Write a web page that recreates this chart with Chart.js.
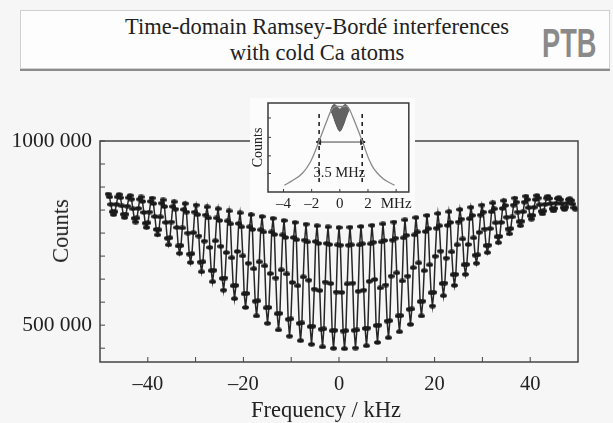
<!DOCTYPE html>
<html>
<head>
<meta charset="utf-8">
<script src="https://cdn.jsdelivr.net/npm/chart.js@4.4.1/dist/chart.umd.min.js"></script>
<style>
  body { margin: 0; width: 613px; height: 423px; overflow: hidden; position: relative; background: #f6f6f6; font-family: "Liberation Serif", "DejaVu Serif", serif; color: #222; }
  #head { position: absolute; left: 20px; top: 10px; width: 588px; height: 57px; background: #fdfdfd; border: 1px solid #d0d0d0; box-shadow: 0 2px 0 #8c8c8c; }
  #head .t { position: absolute; left: 0; width: 592px; text-align: center; font-size: 22.5px; }
  #logo { position: absolute; left: 542px; top: 23px; font: bold 40px/1 "Liberation Sans", sans-serif; color: #8a8a8a; transform: scaleX(0.68); transform-origin: left top; }
  .lbl { position: absolute; white-space: nowrap; transform: translate(-50%, -50%); }
  canvas { position: absolute; }
</style>
</head>
<body>
<div id="head">
  <div class="t" style="top:3px">Time-domain Ramsey-Bordé interferences</div>
  <div class="t" style="top:29px">with cold Ca atoms</div>
</div>
<div id="logo">PTB</div>
<canvas id="main" width="613" height="423" style="left:0;top:0;width:613px;height:423px"></canvas>
<canvas id="inset" width="165" height="114" style="left:250px;top:98px;width:165px;height:114px"></canvas>
<div class="lbl" style="left:61px;top:231px;font-size:22.5px;transform:translate(-50%,-50%) rotate(-90deg)">Counts</div>
<div class="lbl" style="left:326px;top:410px;font-size:22.5px">Frequency / kHz</div>
<script>
// main scan: counts in units of 1000, sampled on a regular frequency grid (one fringe per row)
const freqStartKHz = -48.3;
const freqStepKHz = 0.2875;
const countsK = [
  856, 848, 828, 808, 800, 808, 828, 848,
  855, 846, 824, 801, 792, 801, 823, 846,
  852, 842, 816, 790, 780, 791, 817, 842,
  848, 836, 806, 777, 765, 778, 807, 836,
  845, 830, 795, 760, 745, 759, 794, 831,
  840, 822, 779, 736, 718, 737, 780, 822,
  835, 815, 765, 715, 695, 716, 764, 814,
  830, 807, 750, 693, 670, 694, 751, 807,
  826, 800, 742, 671, 645, 672, 728, 799,
  821, 791, 711, 648, 618, 649, 729, 791,
  816, 784, 714, 627, 595, 628, 697, 783,
  810, 775, 683, 607, 572, 608, 700, 776,
  805, 767, 688, 585, 548, 586, 668, 767,
  800, 760, 653, 565, 525, 566, 672, 759,
  795, 753, 661, 547, 505, 548, 640, 753,
  790, 746, 628, 531, 487, 532, 650, 745,
  784, 738, 639, 516, 470, 517, 616, 738,
  779, 732, 607, 505, 458, 506, 631, 731,
  774, 726, 622, 496, 448, 497, 598, 727,
  770, 722, 594, 489, 441, 490, 617, 722,
  767, 719, 613, 485, 437, 486, 590, 718,
  765, 717, 589, 484, 436, 485, 612, 717,
  766, 718, 614, 486, 438, 487, 592, 718,
  768, 721, 595, 491, 444, 492, 619, 721,
  771, 725, 624, 499, 453, 500, 601, 726,
  775, 730, 609, 511, 466, 512, 633, 731,
  780, 736, 642, 525, 482, 526, 620, 737,
  786, 744, 633, 543, 502, 544, 656, 745,
  792, 753, 669, 564, 525, 565, 648, 754,
  798, 762, 664, 588, 552, 589, 687, 763,
  803, 770, 701, 613, 580, 614, 682, 771,
  808, 779, 699, 637, 608, 638, 718, 780,
  814, 788, 734, 664, 638, 665, 719, 789,
  820, 798, 737, 690, 668, 691, 752, 799,
  826, 807, 761, 716, 697, 717, 762, 808,
  832, 816, 778, 740, 724, 741, 779, 817,
  838, 825, 793, 761, 748, 762, 794, 826,
  845, 834, 807, 781, 770, 782, 808, 834,
  850, 841, 819, 797, 788, 798, 820, 841,
  852, 845, 827, 809, 802, 810, 828, 845,
  850, 844, 830, 816, 810, 817, 831, 844,
  846, 841, 830, 819, 814, 820, 831, 841,
  843, 839, 829, 819, 815
];
const xTickVals = [-40, -30, -20, -10, 0, 10, 20, 30, 40];
const xTickText = ["\u201340", "", "\u201320", "", "0", "", "20", "", "40"];
const yTickVals = [437.5, 500, 562.5, 625, 687.5, 750, 812.5, 875, 937.5, 1000];
const yTickText = ["", "500 000", "", "", "", "", "", "", "", "1000 000"];

// inset: wide scan in MHz, normalised counts
const inCurveX = [-3.93, -3.36, -2.67, -2.09, -1.47, -0.94, -0.6, -0.32, 0, 0.3, 0.55, 0.9, 1.59, 2.28, 3.08, 3.88];
const inCurveY = [0.078, 0.13, 0.21, 0.34, 0.58, 0.80, 0.93, 0.97, 0.97, 0.97, 0.97, 0.86, 0.58, 0.30, 0.15, 0.078];
const blobX = [-0.65, -0.45, -0.25, 0, 0.25, 0.45, 0.65];
const blobTop = [0.93, 0.99, 0.98, 0.94, 0.98, 0.99, 0.93];
const blobBottom = [0.93, 0.85, 0.76, 0.69, 0.76, 0.85, 0.93];
const widthEdges = [-1.47, 1.59];
const dashSpan = [0.114, 0.89];
const arrowLevel = 0.567;
const inXTickVals = [-4, -2, 0, 2, 4];
const inXTickText = ["\u20134", "\u20132", "0", "2", "MHz"];
const inYTickVals = [0.21, 0.41, 0.62, 0.84];

const serif = '"Liberation Serif", "DejaVu Serif", serif';

// flat oval marker, like the blurred data points in the scan
const dot = document.createElement('canvas');
dot.width = 7; dot.height = 5;
const dctx = dot.getContext('2d');
dctx.fillStyle = '#1a1a1a';
dctx.beginPath();
dctx.ellipse(3.5, 2.5, 3.4, 2.2, 0, 0, Math.PI * 2);
dctx.fill();

const framePlugin = {
  id: 'frame',
  beforeDraw(chart, args, opts) {
    if (!opts.bg) return;
    const ctx = chart.ctx;
    ctx.save();
    ctx.fillStyle = opts.bg;
    ctx.fillRect(0, 0, chart.width, chart.height);
    ctx.restore();
  },
  afterDatasetsDraw(chart, args, opts) {
    const {ctx, chartArea: a, scales} = chart;
    ctx.save();
    ctx.strokeStyle = opts.color;
    ctx.lineWidth = opts.width;
    ctx.strokeRect(a.left, a.top, a.right - a.left, a.bottom - a.top);
    ctx.lineWidth = 1;
    ctx.beginPath();
    scales.x.ticks.forEach(t => {
      const px = scales.x.getPixelForValue(t.value);
      ctx.moveTo(px, a.bottom);
      ctx.lineTo(px, a.bottom - opts.len);
    });
    scales.y.ticks.forEach(t => {
      const py = scales.y.getPixelForValue(t.value);
      ctx.moveTo(a.left, py);
      ctx.lineTo(a.left + opts.len, py);
    });
    ctx.stroke();
    if (opts.note) {
      ctx.fillStyle = '#222';
      ctx.font = opts.note.font;
      ctx.textAlign = 'center';
      ctx.textBaseline = 'middle';
      ctx.fillText(opts.note.text, scales.x.getPixelForValue(opts.note.x), scales.y.getPixelForValue(opts.note.y));
    }
    ctx.restore();
  }
};

new Chart(document.getElementById('main'), {
  type: 'scatter',
  data: {
    datasets: [{
      data: countsK.map((c, i) => ({x: freqStartKHz + i * freqStepKHz, y: c})),
      showLine: true,
      borderColor: '#262626',
      borderWidth: 1.5,
      pointStyle: dot,
      pointRadius: 3
    }]
  },
  options: {
    responsive: false,
    animation: false,
    layout: {padding: {top: 141, right: 35, left: 0, bottom: 0}},
    plugins: {legend: {display: false}, tooltip: {enabled: false}, frame: {color: '#444', width: 1.5, len: 5}},
    scales: {
      x: {
        type: 'linear', min: -50, max: 50,
        afterBuildTicks: s => { s.ticks = xTickVals.map(v => ({value: v})); },
        afterFit: s => { s.height = 61; },
        grid: {display: false, drawTicks: false}, border: {display: false},
        ticks: {callback: (v, i) => xTickText[i], autoSkip: false, maxRotation: 0, padding: 10, color: '#222', font: {family: serif, size: 20.5}}
      },
      y: {
        min: 400, max: 1000,
        afterBuildTicks: s => { s.ticks = yTickVals.map(v => ({value: v})); },
        afterFit: s => { s.width = 100; },
        grid: {display: false, drawTicks: false}, border: {display: false},
        ticks: {callback: (v, i) => yTickText[i], autoSkip: false, padding: 8, color: '#222', font: {family: serif, size: 21.5}}
      }
    }
  },
  plugins: [framePlugin]
});

new Chart(document.getElementById('inset'), {
  type: 'scatter',
  data: {
    datasets: [
      {data: inCurveX.map((x, i) => ({x, y: inCurveY[i]})), showLine: true, borderColor: '#8a8a8a', borderWidth: 1.3, pointRadius: 0, tension: 0.4},
      {data: blobX.map((x, i) => ({x, y: blobTop[i]})), showLine: true, borderColor: '#555', borderWidth: 1, pointRadius: 0, tension: 0.4},
      {data: blobX.map((x, i) => ({x, y: blobBottom[i]})), showLine: true, borderColor: '#555', borderWidth: 1, pointRadius: 0, tension: 0.4, fill: '-1', backgroundColor: 'rgba(60,60,60,0.8)'},
      {data: dashSpan.map(y => ({x: widthEdges[0], y})), showLine: true, borderColor: '#222', borderWidth: 1.6, borderDash: [4, 4], pointRadius: 0},
      {data: dashSpan.map(y => ({x: widthEdges[1], y})), showLine: true, borderColor: '#222', borderWidth: 1.6, borderDash: [4, 4], pointRadius: 0},
      {data: widthEdges.map(x => ({x, y: arrowLevel})), showLine: true, borderColor: '#444', borderWidth: 1, pointStyle: 'triangle', pointRotation: [-90, 90], pointRadius: 3, pointBackgroundColor: '#222', pointBorderColor: '#222'}
    ]
  },
  options: {
    responsive: false,
    animation: false,
    layout: {padding: {top: 4, right: 2, left: 0, bottom: 0}},
    plugins: {
      legend: {display: false}, tooltip: {enabled: false},
      frame: {bg: '#fcfcfc', color: '#3a3a3a', width: 1.5, len: 3, note: {text: '3.5 MHz', x: -0.03, y: 0.21, font: '14.5px ' + serif}}
    },
    scales: {
      x: {
        type: 'linear', min: -5.1, max: 4.9,
        afterBuildTicks: s => { s.ticks = inXTickVals.map(v => ({value: v})); },
        afterFit: s => { s.height = 20; },
        grid: {display: false, drawTicks: false}, border: {display: false},
        ticks: {callback: (v, i) => inXTickText[i], autoSkip: false, maxRotation: 0, padding: 3, color: '#222', font: {family: serif, size: 15}}
      },
      y: {
        min: 0, max: 1.01,
        afterBuildTicks: s => { s.ticks = inYTickVals.map(v => ({value: v})); },
        afterFit: s => { s.width = 18; },
        grid: {display: false, drawTicks: false}, border: {display: false},
        ticks: {display: false},
        title: {display: true, text: 'Counts', padding: 0, color: '#222', font: {family: serif, size: 14}}
      }
    }
  },
  plugins: [framePlugin]
});
</script>
</body>
</html>
